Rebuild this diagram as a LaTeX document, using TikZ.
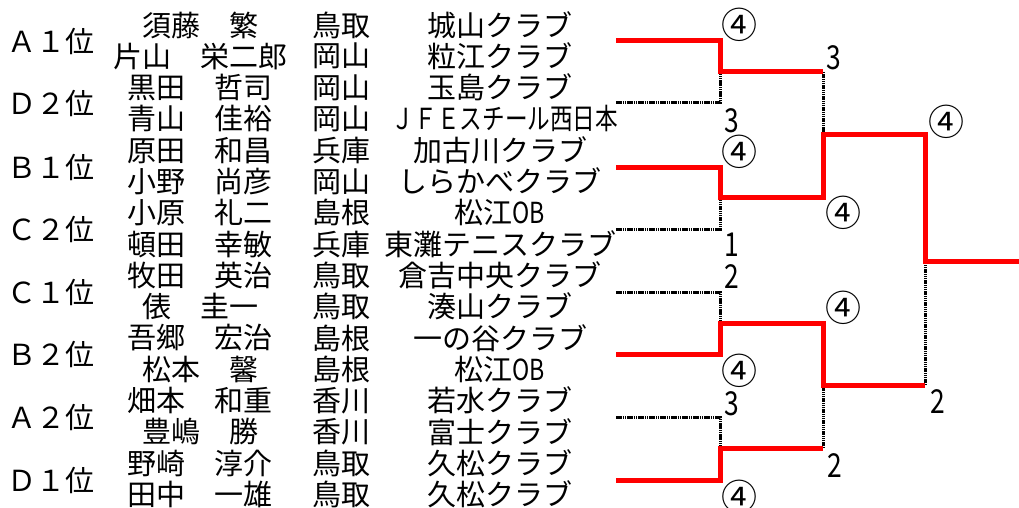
\documentclass[tikz,border=0pt]{standalone}
\usepackage{fontspec}
\setmainfont{Noto Sans CJK JP}
\begin{document}
\begin{tikzpicture}[x=1pt,y=-1pt,
  txt/.style={font=\fontsize{29}{29}\selectfont, inner sep=0pt, anchor=center},
  grp/.style={font=\fontsize{29}{29}\selectfont, inner sep=0pt, anchor=west},
  score/.style={font=\fontsize{33}{33}\selectfont, inner sep=0pt, anchor=center},
  circ/.style={font=\fontsize{36}{36}\selectfont, inner sep=0pt, anchor=center},
  win/.style={draw={rgb,255:red,255;green,0;blue,0}, line width=5pt},
  lose/.style={draw=black, line width=3pt, dash pattern=on 1.5pt off 0.7pt}]
\useasboundingbox (0,0) rectangle (1019,508);
% group labels
\node[grp] (g0) at (7,41)  {Ａ１位};
\node[grp] (g1) at (7,103) {Ｄ２位};
\node[grp] (g2) at (7,167) {Ｂ１位};
\node[grp] (g3) at (7,229) {Ｃ２位};
\node[grp] (g4) at (7,292) {Ｃ１位};
\node[grp] (g5) at (7,354) {Ｂ２位};
\node[grp] (g6) at (7,417) {Ａ２位};
\node[grp] (g7) at (7,480) {Ｄ１位};
% players
\foreach \i/\n/\p/\c in {
  1/須藤　繁/鳥取/城山クラブ,
  2/片山　栄二郎/岡山/粒江クラブ,
  3/黒田　哲司/岡山/玉島クラブ,
  5/原田　和昌/兵庫/加古川クラブ,
  6/小野　尚彦/岡山/しらかべクラブ,
  7/小原　礼二/島根/松江\scalebox{0.8}[1]{OB},
  8/頓田　幸敏/兵庫/東灘テニスクラブ,
  9/牧田　英治/鳥取/倉吉中央クラブ,
  10/俵　圭一/鳥取/湊山クラブ,
  11/吾郷　宏治/島根/一の谷クラブ,
  12/松本　馨/島根/松江\scalebox{0.8}[1]{OB},
  13/畑本　和重/香川/若水クラブ,
  14/豊嶋　勝/香川/富士クラブ,
  15/野崎　淳介/鳥取/久松クラブ,
  16/田中　一雄/鳥取/久松クラブ}{
  \pgfmathsetmacro{\yy}{25+(\i-1)*31.3}
  \node[txt] (n\i) at (200,\yy) {\n};
  \node[txt] (p\i) at (341,\yy) {\p};
  \node[txt] (c\i) at (500,\yy) {\c};
}
\node[txt] (n4) at (200,118.9) {青山　佳裕};
\node[txt] (p4) at (341,118.9) {岡山};
\node[txt] (c4) at (505,118.9) {\scalebox{0.78}[1]{ＪＦＥスチール西日本}};
% bracket points
\coordinate (T0) at (616,41);
\coordinate (T1) at (616,103);
\coordinate (T2) at (616,167);
\coordinate (T3) at (616,229);
\coordinate (T4) at (616,292);
\coordinate (T5) at (616,354);
\coordinate (T6) at (616,417);
\coordinate (T7) at (616,480);
\coordinate (R0) at (720,72);
\coordinate (R1) at (720,197);
\coordinate (R2) at (720,323);
\coordinate (R3) at (720,448);
\coordinate (S0) at (823,134);
\coordinate (S1) at (823,385);
\coordinate (F) at (925,261);
\coordinate (E) at (1019,261);
% losers
\draw[lose] (T1) -| (R0);
\draw[lose] (T3) -| (R1);
\draw[lose] (T4) -| (R2);
\draw[lose] (T6) -| (R3);
\draw[lose] (R0 -| S0) -- (S0);
\draw[lose] (R3 -| S1) -- (S1);
\draw[lose] (S1 -| F) -- (F);
% winners
\draw[win] (T0) -| (R0) -- (R0 -| S0);
\draw[win] (T2) -| (R1) -- (R1 -| S0) -- (S0) -- (S0 -| F) -- (F) -- (E);
\draw[win] (T5) -| (R2) -- (R2 -| S1) -- (S1) -- (S1 -| F);
\draw[win] (T7) -| (R3) -- (R3 -| S1);
% scores
\node[circ] (s1) at (739,25) {④};
\node[score] (s2) at (732,121) {\scalebox{0.8}[1]{3}};
\node[circ] (s3) at (739,152) {④};
\node[score] (s4) at (732,245) {\scalebox{0.8}[1]{1}};
\node[score] (s5) at (732,277) {\scalebox{0.8}[1]{2}};
\node[circ] (s6) at (739,371) {④};
\node[score] (s7) at (732,404) {\scalebox{0.8}[1]{3}};
\node[circ] (s8) at (739,497) {④};
\node[score] (s9) at (834,58) {\scalebox{0.8}[1]{3}};
\node[circ] (s10) at (843,213) {④};
\node[circ] (s11) at (843,308) {④};
\node[score] (s12) at (835,466) {\scalebox{0.8}[1]{2}};
\node[circ] (s13) at (946,122) {④};
\node[score] (s14) at (938,402) {\scalebox{0.8}[1]{2}};
\end{tikzpicture}
\end{document}
